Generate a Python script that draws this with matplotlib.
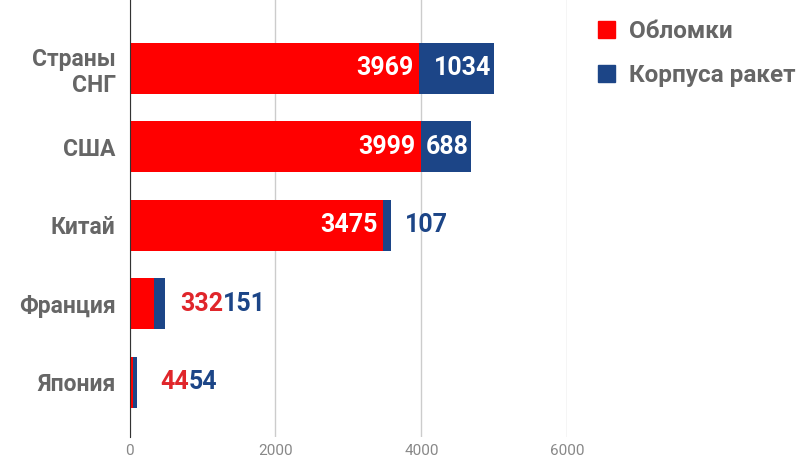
import matplotlib.pyplot as plt
from matplotlib.patches import Patch

# данные
countries = ['Страны\nСНГ', 'США', 'Китай', 'Франция', 'Япония']
debris = [3969, 3999, 3475, 332, 44]        # Обломки
bodies = [1034, 688, 107, 151, 54]          # Корпуса ракет
# подпись внутри сегмента или снаружи
debris_inside = [True, True, True, False, False]
bodies_inside = [True, True, False, False, False]

RED = '#ff0000'
BLUE = '#1c4587'
GRAY = '#666666'
VAL_SIZE = 18

plt.rcParams['font.family'] = ['Roboto', 'DejaVu Sans']

fig = plt.figure(figsize=(8, 4.63), dpi=100)
ax = fig.add_axes([0.162, 0.056, 0.547, 0.944])

y = list(range(len(countries)))
h = 0.65
ax.barh(y, debris, height=h, color=RED)
ax.barh(y, bodies, left=debris, height=h, color=BLUE)

ax.set_xlim(0, 6000)
ax.set_ylim(4.70, -0.87)
ax.set_xticks([0, 2000, 4000, 6000])
ax.grid(axis='x', color='#cccccc', linewidth=1)
ax.set_axisbelow(True)
for s in ['top', 'right', 'bottom']:
    ax.spines[s].set_visible(False)
ax.spines['left'].set_color('#333333')
ax.spines['left'].set_zorder(3)
ax.tick_params(axis='x', length=0, pad=5, labelsize=11, labelcolor='#888888')
ax.tick_params(axis='y', length=0, pad=10)
ax.set_yticks(y)
ax.set_yticklabels(countries, fontsize=16.5, fontweight='bold', color=GRAY,
                   ha='right', multialignment='right')

# подписи значений
for i in y:
    d, b = debris[i], bodies[i]
    total = d + b
    prev = None
    if debris_inside[i]:
        ax.annotate(str(d), xy=(d, i), xytext=(-4, 0), textcoords='offset points',
                    ha='right', va='center', color='white', fontsize=VAL_SIZE, fontweight='bold')
    else:
        prev = ax.annotate(str(d), xy=(total, i), xytext=(11 if b > 100 else 17, 0),
                           textcoords='offset points', ha='left', va='center',
                           color='#e0262b', fontsize=VAL_SIZE, fontweight='bold')
    if bodies_inside[i]:
        ax.annotate(str(b), xy=(total, i), xytext=(-2, 0), textcoords='offset points',
                    ha='right', va='center', color='white', fontsize=VAL_SIZE, fontweight='bold')
    elif prev is not None:
        ax.annotate(str(b), xy=(1, 0.5), xycoords=prev, ha='left', va='center',
                    color=BLUE, fontsize=VAL_SIZE, fontweight='bold')
    else:
        ax.annotate(str(b), xy=(total, i), xytext=(10, 0), textcoords='offset points',
                    ha='left', va='center', color=BLUE, fontsize=VAL_SIZE, fontweight='bold')

handles = [Patch(color=RED, label='Обломки'), Patch(color=BLUE, label='Корпуса ракет')]
leg = fig.legend(handles=handles, loc='upper left', bbox_to_anchor=(0.72, 1.005),
                 frameon=False, handlelength=0.7, handleheight=0.7, handletextpad=0.6,
                 labelspacing=0.9, prop={'size': 17.5, 'weight': 'bold'})
for t in leg.get_texts():
    t.set_color(GRAY)

fig.savefig('out.png', dpi=100)
